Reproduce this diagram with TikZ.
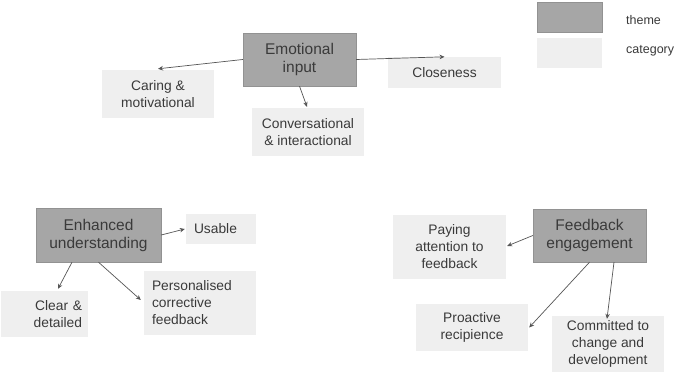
\documentclass[tikz,border=0pt]{standalone}
\usepackage{fontspec}
\setmainfont{Liberation Sans}
\usetikzlibrary{arrows.meta,calc}
\definecolor{themefill}{HTML}{A6A6A6}
\definecolor{catfill}{HTML}{EFEFEF}
\definecolor{txt}{HTML}{3A3A3A}
\definecolor{arrowcol}{HTML}{555555}
\begin{document}
\begin{tikzpicture}[x=1pt,y=-1pt,
  theme/.style={fill=themefill, draw=themefill!88!black, line width=0.4pt, text=txt, align=center,
    font=\fontsize{15.5}{18}\selectfont, inner sep=0pt},
  cat/.style={fill=catfill, text=txt, align=center, font=\fontsize{13.8}{17}\selectfont, inner sep=0pt},
  arr/.style={draw=arrowcol, line width=0.7pt, -{Stealth[length=5pt,width=4.5pt]}},
  legtxt/.style={text=txt, font=\fontsize{12.5}{15}\selectfont, anchor=west, inner sep=0pt}]
\useasboundingbox[fill=white] (0,0) rectangle (680,382);

% legend
\node[theme, minimum width=65pt, minimum height=30pt] (legtheme) at (569.5,17) {};
\node[cat, minimum width=65pt, minimum height=30pt] (legcat) at (569.5,53) {};
\node[legtxt] (legthemetxt) at (626,20) {theme};
\node[legtxt] (legcattxt) at (626,51) {category};

% Emotional input
\node[theme, minimum width=113pt, minimum height=53pt] (emo) at (299.5,59.5) {Emotional\\input};
\node[cat, minimum width=112pt, minimum height=48pt] (car) at (158,94) {Caring \&\\motivational};
\node[cat, minimum width=113pt, minimum height=31pt] (clo) at (444.5,72.5) {Closeness};
\node[cat, minimum width=112pt, minimum height=48pt] (conv) at (308,132) {Conversational\\\& interactional};

\draw[arr] (emo.west) -- ($(car.north)+(0,-1)$);
\draw[arr] (emo.east) -- (clo.north);
\draw[arr] (emo.south) -- ($(conv.north)+(-1,-1)$);

% Enhanced understanding
\node[theme, minimum width=125pt, minimum height=54pt] (eu) at (98.5,235) {Enhanced\\understanding};
\node[cat, minimum height=30pt, inner xsep=8pt, text width=54pt, align=left] (use) at (221,229) {Usable};
\node[cat, minimum height=46pt, inner xsep=6pt, text width=75pt, align=right] (clear) at (44.5,314) {Clear \&\\detailed};
\node[cat, minimum height=64pt, inner xsep=8pt, text width=96pt, align=left] (pers) at (200,303) {Personalised\\corrective\\feedback};

\draw[arr] (eu.east) -- ($(use.west)+(-1,0)$);
\draw[arr] ($(eu.south)+(-26.5,0)$) -- ($(clear.north)+(13.5,-2)$);
\draw[arr] (eu.south) -- ($(pers.west)+(-3,-3)$);

% Feedback engagement
\node[theme, minimum width=113pt, minimum height=53pt] (fe) at (589.5,235.5) {Feedback\\engagement};
\node[cat, minimum width=113pt, minimum height=64pt] (pay) at (449.5,247) {Paying\\attention to\\feedback};
\node[cat, minimum width=112pt, minimum height=47pt] (pro) at (472,327.5) {Proactive\\recipience};
\node[cat, minimum width=112pt, minimum height=56pt] (com) at (608,344) {Committed to\\change and\\development};

\draw[arr] (fe.west) -- ($(pay.east)+(1,-1)$);
\draw[arr] (fe.south) -- ($(pro.east)+(1,0)$);
\draw[arr] ($(fe.south)+(24.5,0)$) -- ($(com.north)+(-1,3)$);
\end{tikzpicture}
\end{document}
